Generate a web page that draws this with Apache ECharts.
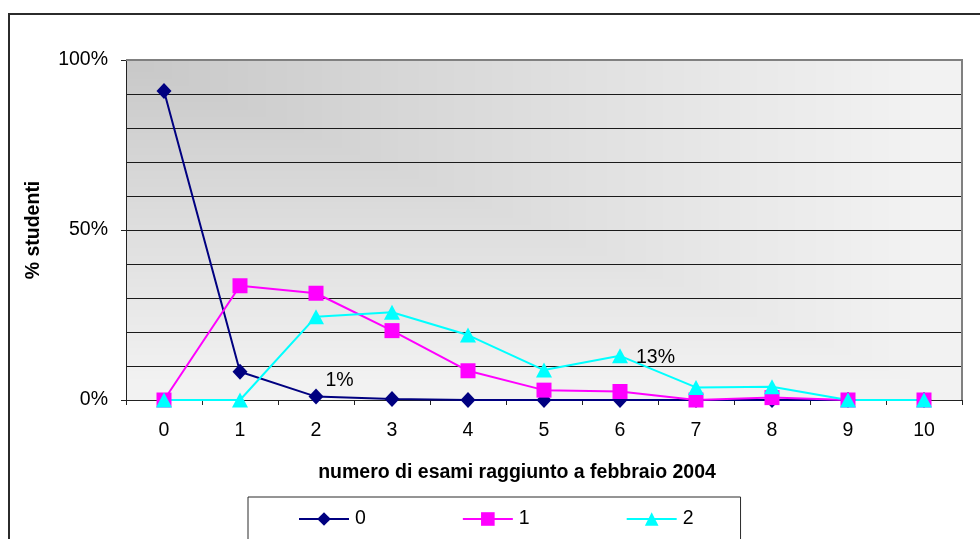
<!DOCTYPE html>
<html>
<head>
<meta charset="utf-8">
<title>% studenti per numero di esami</title>
<script src="https://cdn.jsdelivr.net/npm/echarts@6/dist/echarts.min.js"></script>
<style>
  html, body { margin: 0; padding: 0; background: #fff; }
  #chart { width: 980px; height: 539px; }
</style>
</head>
<body>
<div id="chart"></div>
<script>
// Esami sostenuti entro febbraio 2004, per gruppo
const categories = ['0', '1', '2', '3', '4', '5', '6', '7', '8', '9', '10'];
const seriesNames = ['0', '1', '2'];
const values0 = [90.9, 8.3, 1, 0.3, 0, 0, 0, 0, 0, 0, 0];
const values1 = [0, 33.6, 31.4, 20.4, 8.6, 2.9, 2.5, 0, 0.7, 0, 0];
const values2 = [0, 0, 24.5, 25.8, 19.1, 8.8, 13, 3.7, 3.9, 0, 0];
const yTicks = [0, 50, 100];

const FONT = '"Liberation Sans", Arial, sans-serif';
const FS = 19.5;
const GRID = { left: 126, top: 60, width: 836, height: 340 };

// plot area fill: shade spreading out from the top-left corner
function cornerShade(w, h) {
  const c = document.createElement('canvas');
  c.width = w; c.height = h;
  const ctx = c.getContext('2d');
  const steps = 240;
  for (let i = steps; i >= 0; i--) {
    const t = i / steps;
    const g = Math.round(200 + 42 * Math.min(1, t / 0.95));
    ctx.fillStyle = 'rgb(' + g + ',' + g + ',' + g + ')';
    ctx.fillRect(0, 0, Math.ceil(w * t), Math.ceil(h * t));
  }
  return c;
}

const chart = echarts.init(document.getElementById('chart'), null, { renderer: 'canvas' });

function pctLabel(p) { return Math.round(p.value) + '%'; }

const option = {
  animation: false,
  textStyle: { fontFamily: FONT },
  graphic: [
    {
      type: 'image', z: -100,
      left: GRID.left, top: GRID.top,
      style: { image: cornerShade(GRID.width, GRID.height), width: GRID.width, height: GRID.height }
    },
    {
      type: 'rect', z: 100, silent: true,
      shape: { x: GRID.left + GRID.width - 1, y: GRID.top - 1, width: 2, height: GRID.height + 1 },
      style: { fill: '#808080' }
    },
    {
      type: 'rect', z: 100, silent: true,
      shape: { x: GRID.left, y: GRID.top - 1, width: GRID.width, height: 2 },
      style: { fill: '#808080' }
    },
    {
      type: 'rect', z: -100, silent: true,
      shape: { x: 9, y: 14, width: 1200, height: 800 },
      style: { fill: 'none', stroke: '#2b2b2b', lineWidth: 2 }
    }
  ],
  grid: { left: GRID.left, top: GRID.top, width: GRID.width, height: GRID.height, containLabel: false },
  legend: {
    data: seriesNames,
    left: 248, top: 497,
    orient: 'horizontal',
    padding: [12, 47, 40, 50],
    itemGap: 96,
    itemWidth: 50, itemHeight: 17,
    borderColor: '#2b2b2b', borderWidth: 1,
    backgroundColor: '#fff',
    textStyle: { fontFamily: FONT, fontSize: FS, color: '#000', padding: [0, 0, 0, 1] }
  },
  xAxis: {
    type: 'category',
    data: categories,
    boundaryGap: true,
    name: 'numero di esami raggiunto a febbraio 2004',
    nameLocation: 'middle',
    nameGap: 63,
    nameTextStyle: { fontFamily: FONT, fontSize: FS, fontWeight: 'bold', color: '#000', padding: [0, 54, 0, 0] },
    axisLine: { lineStyle: { color: '#222', width: 1 } },
    axisTick: { show: true, alignWithLabel: false, length: 5, lineStyle: { color: '#222' } },
    axisLabel: { fontFamily: FONT, fontSize: FS, color: '#000', margin: 21 },
    splitLine: { show: false }
  },
  yAxis: [
    {
      type: 'value', min: 0, max: 100, interval: 50,
      name: '% studenti',
      nameLocation: 'middle',
      nameGap: 82,
      nameTextStyle: { fontFamily: FONT, fontSize: FS, fontWeight: 'bold', color: '#000' },
      axisLine: { show: true, lineStyle: { color: '#222', width: 1 } },
      axisTick: { show: true, length: 5, lineStyle: { color: '#222' } },
      axisLabel: {
        fontFamily: FONT, fontSize: FS, color: '#000', margin: 18,
        formatter: v => (yTicks.includes(v) ? v + '%' : '')
      },
      splitLine: { show: false }
    },
    {
      type: 'value', min: 0, max: 100, interval: 10, position: 'left',
      axisLine: { show: false }, axisTick: { show: false }, axisLabel: { show: false },
      splitLine: {
        show: true,
        lineStyle: { color: '#1a1a1a', width: 1 },
        showMaxLine: false
      }
    }
  ],
  series: [
    {
      name: seriesNames[0], type: 'line', data: values0.map((v, i) => i === 2
        ? { value: v, label: { show: true, position: 'right', offset: [-3, -16], formatter: pctLabel } }
        : v),
      yAxisIndex: 0,
      symbol: 'diamond', symbolSize: [15, 16],
      lineStyle: { color: '#000080', width: 2 },
      itemStyle: { color: '#000080' },
      label: { show: false, fontFamily: FONT, fontSize: FS, color: '#000' }
    },
    {
      name: seriesNames[1], type: 'line', data: values1,
      yAxisIndex: 0,
      symbol: 'rect', symbolSize: 15,
      lineStyle: { color: '#ff00ff', width: 2 },
      itemStyle: { color: '#ff00ff' }
    },
    {
      name: seriesNames[2], type: 'line', data: values2.map((v, i) => i === 6
        ? { value: v, label: { show: true, position: 'right', distance: 8, offset: [0, 2], formatter: pctLabel } }
        : v),
      yAxisIndex: 0,
      symbol: 'triangle', symbolSize: [16, 15],
      lineStyle: { color: '#00ffff', width: 2 },
      itemStyle: { color: '#00ffff' },
      label: { show: false, fontFamily: FONT, fontSize: FS, color: '#000' }
    }
  ]
};

chart.setOption(option);
</script>
</body>
</html>
